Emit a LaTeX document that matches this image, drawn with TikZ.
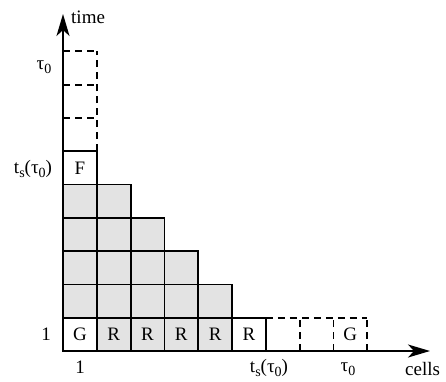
\documentclass[tikz,border=0pt]{standalone}
\usepackage{fontspec}
\setmainfont{Liberation Serif}
\usetikzlibrary{arrows.meta}
\newcommand{\sbs}[1]{\raisebox{-0.45ex}{\fontsize{14}{14}\selectfont #1}}
\newcommand{\tz}{τ\sbs{0}}
\newcommand{\tsz}{t\sbs{s}(\tz)}
\begin{document}
\begin{tikzpicture}[x=1pt,y=-1pt,
  cellline/.style={line width=1.8pt},
  dashline/.style={line width=1.8pt,dash pattern=on 7pt off 5pt},
  shade/.style={fill=black!11},
  axis/.style={line width=1.8pt,-{Stealth[length=22pt,width=13pt,inset=6pt]}},
  lbl/.style={inner sep=0pt,font=\fontsize{19}{19}\selectfont},
  cl/.style={inner sep=0pt,font=\fontsize{19}{19}\selectfont}]
\useasboundingbox (0,0) rectangle (446,381);
\def\cw{33.8}\def\ch{33.3}
% shaded cells
\foreach \c/\r in {2/1,3/1,4/1,5/1,
  1/2,2/2,3/2,4/2,5/2,
  1/3,2/3,3/3,4/3,
  1/4,2/4,3/4,
  1/5,2/5}{
  \fill[shade] ({63+\cw*(\c-1)},{351-\ch*(\r-1)}) rectangle ({63+\cw*\c},{351-\ch*\r});
}
% solid cell borders
\foreach \c/\h in {1/6,2/5,3/4,4/3,5/2,6/1}{
  \foreach \r in {1,...,\h}{
    \draw[cellline] ({63+\cw*(\c-1)},{351-\ch*(\r-1)}) rectangle ({63+\cw*\c},{351-\ch*\r});
  }
}
% dashed cells along x
\draw[dashline] ({63+\cw*6},{351-\ch}) -- ({63+\cw*9},{351-\ch});
\foreach \c in {7,8,9}{
  \draw[dashline] ({63+\cw*\c},351) -- ({63+\cw*\c},{351-\ch});
}
% dashed cells along y
\draw[dashline] ({63+\cw},{351-\ch*6}) -- ({63+\cw},{351-\ch*9});
\foreach \r in {7,8,9}{
  \draw[dashline] (63,{351-\ch*\r}) -- ({63+\cw},{351-\ch*\r});
}
% axes
\coordinate (O) at (63,351);
\coordinate (ytip) at (63,14);
\coordinate (xtip) at (430,351);
\draw[axis] (O) -- (ytip);
\draw[axis] (O) -- (xtip);
% cell labels
\node[cl] (g1) at ({63+\cw*0.5},{351-\ch*0.5}) {G};
\foreach \c in {2,...,6}{
  \node[cl] (r\c) at ({63+\cw*(\c-0.5)},{351-\ch*0.5}) {R};
}
\node[cl] (g9) at ({63+\cw*8.5},{351-\ch*0.5}) {G};
\node[cl] (f) at ({63+\cw*0.5},{351-\ch*5.5}) {F};
% axis labels
\node[lbl,anchor=west] (time) at (71,17) {time};
\node[lbl,anchor=north west] (cells) at (405,362) {cells};
\node[lbl] (ty1) at (46,334) {1};
\node[lbl] (tyts) at (33,169) {\tsz};
\node[lbl] (tytz) at (44,67) {\tz};
\node[lbl] (tx1) at (80,367) {1};
\node[lbl] (txts) at (269,368) {\tsz};
\node[lbl] (txtz) at (348,369) {\tz};
\end{tikzpicture}
\end{document}
